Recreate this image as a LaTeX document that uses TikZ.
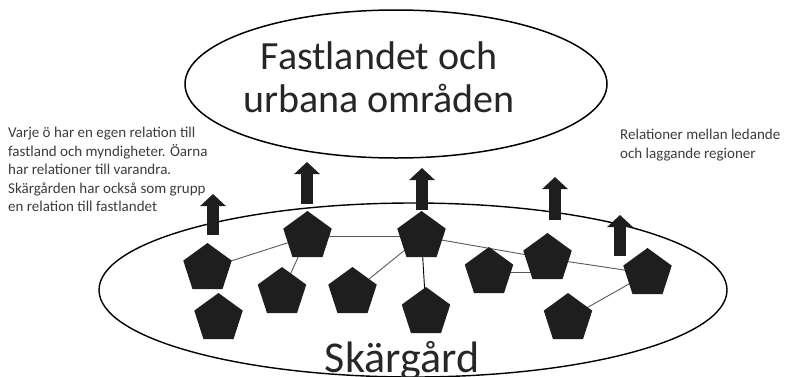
\documentclass[tikz,border=0pt]{standalone}
\usepackage{fontspec}
\setmainfont{Carlito}
\usetikzlibrary{shapes.geometric,arrows.meta}
\definecolor{islandblack}{RGB}{30,30,30}
\definecolor{notegray}{RGB}{60,60,60}
\pgfdeclarelayer{background}
\pgfsetlayers{background,main}

\begin{document}
\begin{tikzpicture}[x=1pt,y=-1pt,
  island/.style={regular polygon,regular polygon sides=5,fill=islandblack,minimum size=51pt,inner sep=0pt},
  tie/.style={draw=black!65,line width=0.9pt},
  lift/.style={islandblack,line width=12pt,-{Triangle[width=25pt,length=12pt]}},
  note/.style={font=\fontsize{15}{18.5}\selectfont,text=notegray,align=left,inner sep=0pt}]
  \useasboundingbox (0,0) rectangle (789,376);

  % fastlandet
  \node[draw,ellipse,line width=1.5pt,minimum width=422pt,minimum height=148pt,inner sep=0pt] (mainland) at (396,84) {};
  \node[font=\fontsize{40}{43}\selectfont,text=black!85,align=center,inner sep=0pt] (mainlandtext) at (379,77) {Fastlandet och\\urbana områden};

  % skärgården
  \node[draw,ellipse,line width=1.4pt,minimum width=628pt,minimum height=174pt,inner sep=0pt] (archipelago) at (413,290) {};
  \node[font=\fontsize{44}{48}\selectfont,text=black!85,anchor=base,inner sep=0pt] (archipelagotext) at (402,372) {Skärgård};

  % öarna
  \node[island] (i1) at (207.5,268.5) {};
  \node[island] (i2) at (307.5,236.5) {};
  \node[island] (i3) at (218.5,318.5) {};
  \node[island] (i4) at (282,292.5) {};
  \node[island] (i5) at (352.5,292.5) {};
  \node[island] (i6) at (421.5,236.5) {};
  \node[island] (i7) at (426,312.5) {};
  \node[island] (i8) at (489,272.5) {};
  \node[island] (i9) at (547.5,258.5) {};
  \node[island] (i10) at (647.5,273.5) {};
  \node[island] (i11) at (568,318.5) {};

  % relationer mellan öarna
  \begin{pgfonlayer}{background}
    \draw[tie] (i1.center) -- (i2.center);
    \draw[tie] (i2.center) -- (i6.center);
    \draw[tie] (i2.center) -- (i4.center);
    \draw[tie] (i6.center) -- (i5.center);
    \draw[tie,draw=black] (i6.center) -- (i7.center);
    \draw[tie] (i6.center) -- (i9.center);
    \draw[tie] (i8.center) -- (i8.center -| i9.center);
    \draw[tie] (i9.center) -- (i10.center);
    \draw[tie] (i10.center) -- (i11.center);
  \end{pgfonlayer}

  % relationer till fastlandet
  \coordinate (a1) at (213,235);
  \coordinate (a2) at (307,204);
  \coordinate (a3) at (422,210);
  \coordinate (a4) at (555,220);
  \coordinate (a5) at (620,256);
  \draw[lift] (a1) -- ++(0,-41);
  \draw[lift] (a2) -- ++(0,-42);
  \draw[lift] (a3) -- ++(0,-42);
  \draw[lift] (a4) -- ++(0,-43);
  \draw[lift] (a5) -- ++(0,-41);

  % texter
  \node[note,anchor=north west] (leftnote) at (8,127) {Varje ö har en egen relation till\\fastland och myndigheter. Öarna\\har relationer till varandra.\\Skärgården har också som grupp\\en relation till fastlandet};
  \node[note,anchor=north west] (rightnote) at (620,129) {Relationer mellan ledande\\och laggande regioner};
\end{tikzpicture}
\end{document}
